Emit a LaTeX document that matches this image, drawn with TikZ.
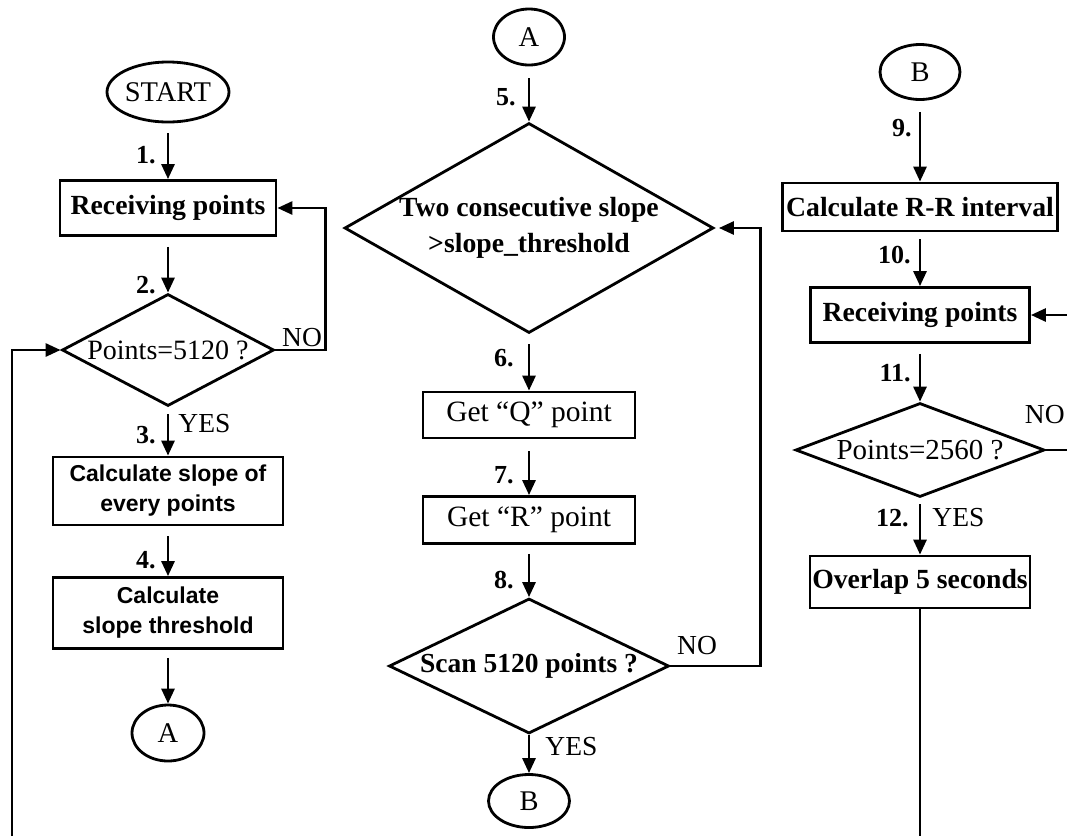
\documentclass[tikz,border=0pt]{standalone}
\usepackage{fontspec}
\setmainfont{Liberation Serif}
\newfontfamily\arialfont{Liberation Sans}
\usetikzlibrary{shapes.geometric,arrows.meta,calc}

\begin{document}
\begin{tikzpicture}[x=1pt,y=-1pt,line width=2.8pt,
  every node/.style={inner sep=0pt,font=\fontsize{28.5}{32}\selectfont},
  proc/.style={draw,rectangle,font=\fontsize{27.7}{32}\selectfont\bfseries},
  procs/.style={draw,rectangle,align=center,font=\fontsize{23}{30}\selectfont\arialfont\bfseries},
  proclight/.style={draw,rectangle,font=\fontsize{29.5}{32}\selectfont},
  decide/.style={draw,diamond,align=center},
  term/.style={draw,ellipse},
  steplab/.style={anchor=east,font=\fontsize{26}{30}\selectfont\bfseries},
  anslab/.style={font=\fontsize{27.5}{30}\selectfont},
  arr/.style={-{Triangle[length=15pt,width=13pt]}},
  gap/.style={shorten <=10pt}]

\fill[white] (0,0) rectangle (1067,836);
\useasboundingbox (0,0) rectangle (1067,836);

% ---------- left column ----------
\node[term,minimum width=112pt,minimum height=60pt] (start) at (168,92) {START};
\node[proc,minimum width=216pt,minimum height=55pt] (recv1) at (168,208) {Receiving points};
\node[decide,minimum width=212pt,minimum height=112pt,aspect=1.9,font=\fontsize{28}{32}\selectfont] (pts1) at (168,350) {Points=5120 ?};
\node[procs,minimum width=230pt,minimum height=68pt] (slope) at (168,491) {Calculate slope of\\every points};
\node[procs,minimum width=230pt,minimum height=71pt] (thr) at (168,613) {Calculate\\slope threshold};
\node[term,minimum width=72pt,minimum height=56pt] (aout) at (168,733) {A};

\node[steplab] (s1) at (157,155) {1.};
\node[steplab] (s2) at (157,285) {2.};
\node[steplab] (s3) at (157,435) {3.};
\node[steplab] (s4) at (157,560) {4.};
\node[anslab,anchor=west] (yes1) at (177,424) {YES};
\node[anslab] (no1) at (302,338) {NO};

\draw[arr,gap] (start.south) -- (recv1.north);
\draw[arr,gap] (recv1.south) -- (pts1.north);
\draw[arr,shorten <=7pt] (pts1.south) -- (slope.north);
\draw[arr,gap] (slope.south) -- (thr.north);
\draw[arr,shorten <=8pt] (thr.south) -- (aout.north);
\draw[arr] (pts1.east) -- ++(50,0) |- (recv1.east);

% ---------- middle column ----------
\node[term,minimum width=71pt,minimum height=56pt] (ain) at (529,37) {A};
\node[decide,minimum width=369pt,minimum height=210pt,aspect=1.76,font=\fontsize{27.7}{36}\selectfont\bfseries] (twos) at (529,228) {Two consecutive slope\\>slope\_threshold};
\node[proclight,minimum width=212pt,minimum height=46pt] (getq) at (529,415) {Get “Q” point};
\node[proclight,minimum width=212pt,minimum height=47pt] (getr) at (529,520) {Get “R” point};
\node[decide,minimum width=280pt,minimum height=135pt,aspect=2.07,font=\fontsize{27.5}{30}\selectfont\bfseries] (scan) at (529,666) {Scan 5120 points ?};
\node[term,minimum width=81pt,minimum height=53pt] (bout) at (529,801) {B};

\node[steplab] (s5) at (517,97) {5.};
\node[steplab] (s6) at (515,358) {6.};
\node[steplab] (s7) at (515,475) {7.};
\node[steplab] (s8) at (515,580) {8.};
\node[anslab,anchor=west] (yes2) at (544,747) {YES};
\node[anslab] (no2) at (697,646) {NO};

\draw[arr,shorten <=12pt] (ain.south) -- (twos.north);
\draw[arr,gap] (twos.south) -- (getq.north);
\draw[arr,shorten <=12pt] (getq.south) -- (getr.north);
\draw[arr,shorten <=9pt] (getr.south) -- (scan.north);
\draw[arr] (scan.south) -- (bout.north);
\draw[arr] (scan.east) -- ++(90,0) |- ([xshift=4pt]twos.east);

% ---------- right column ----------
\node[term,minimum width=80pt,minimum height=55pt] (bin) at (920,72) {B};
\node[proc,minimum width=275pt,minimum height=48pt] (rr) at (920,207) {Calculate R-R interval};
\node[proc,minimum width=219pt,minimum height=55pt] (recv2) at (920,315) {Receiving points};
\node[decide,minimum width=249pt,minimum height=94pt,aspect=2.65,font=\fontsize{29}{32}\selectfont] (pts2) at (920,450) {Points=2560 ?};
\node[proc,minimum width=220pt,minimum height=52pt] (ovl) at (920,582) {Overlap 5 seconds};

\node[steplab] (s9) at (913,128) {9.};
\node[steplab] (s10) at (912,255) {10.};
\node[steplab] (s11) at (912,373) {11.};
\node[steplab] (s12) at (910,518) {12.};
\node[anslab,anchor=west] (yes3) at (931,518) {YES};
\node[anslab,anchor=east] (no3) at (1066,415) {NO};

\draw[arr,shorten <=11pt] (bin.south) -- (rr.north);
\draw[arr,shorten <=7pt] (rr.south) -- (recv2.north);
\draw[arr,gap] (recv2.south) -- (pts2.north);
\draw[arr,shorten <=6pt] (pts2.south) -- (ovl.north);

% loop ends running off the right and bottom edges
\coordinate (rin) at (1067,315);
\coordinate (rout) at (1067,450);
\coordinate (lbot) at (12,836);
\coordinate (rbot) at (920,836);
\draw[arr] (rin) -- (recv2.east);
\draw (pts2.east) -- (rout);
\draw (ovl.south) -- (rbot);
\draw[arr] (lbot) |- (pts1.west);
\end{tikzpicture}
\end{document}
